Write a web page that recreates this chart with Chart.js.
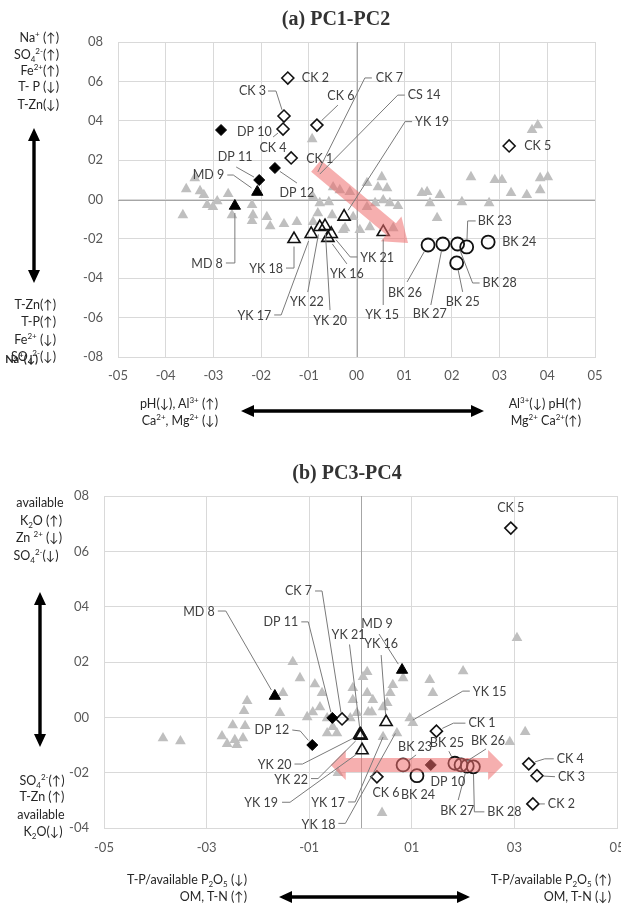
<!DOCTYPE html>
<html>
<head>
<meta charset="utf-8">
<script src="https://cdn.jsdelivr.net/npm/chart.js@4.4.1/dist/chart.umd.min.js"></script>
<style>
html,body{margin:0;padding:0;width:621px;height:909px;overflow:hidden;background:#fff;position:relative;}
canvas{position:absolute;left:0;}
#ca{top:0;}
#cb{top:430px;}
.tx{position:absolute;font-family:Lato,'DejaVu Sans',sans-serif;font-size:12.5px;color:#262626;white-space:nowrap;line-height:14px;}
.tx sup{font-size:8px;vertical-align:0;position:relative;top:-5px;}
.tx sub{font-size:8px;vertical-align:0;position:relative;top:3px;}
.ttl{position:absolute;font-family:'Liberation Serif','Times New Roman',serif;font-weight:bold;font-size:20px;color:#333;white-space:nowrap;transform:translate(-50%,-50%);}
svg{position:absolute;left:0;top:0;}
</style>
</head>
<body>
<canvas id="ca" width="621" height="400"></canvas>
<canvas id="cb" width="640" height="479"></canvas>
<div class="ttl" style="left:336px;top:18px">(a) PC1-PC2</div>
<div class="ttl" style="left:347px;top:472px">(b) PC3-PC4</div>
<svg id="arrows" width="621" height="909"></svg>
<script>
// ================= DATA: (a) PC1-PC2 =================
const A_XTICKS = [-0.5,-0.4,-0.3,-0.2,-0.1,0,0.1,0.2,0.3,0.4,0.5];
const A_XTICK_LABELS = ['-05','-04','-03','-02','-01','00','01','02','03','04','05'];
const A_YTICKS = [-0.8,-0.6,-0.4,-0.2,0,0.2,0.4,0.6,0.8];
const A_YTICK_LABELS = ['-08','-06','-04','-02','00','02','04','06','08'];

const A_GRAY_X = [-0.339,-0.357,-0.328,-0.320,-0.292,-0.269,-0.301,-0.313,-0.364,-0.261,
 -0.219,-0.217,-0.219,-0.188,-0.181,-0.152,-0.125,-0.093,-0.091,-0.081,
 -0.058,-0.049,-0.035,-0.014,0.022,0.053,0.064,0.070,-0.024,0.007,
 0.028,-0.091,-0.077,0.368,0.380,0.240,0.290,0.305,0.385,0.401,
 0.385,0.324,0.357,0.278,0.221,0.175,0.154,0.137,0.148,0.169,
 0.087,-0.028,0.077,-0.007,-0.051,0.045,0.056,0.039,0.022];
const A_GRAY_Y = [0.109,0.053,0.043,0.023,-0.008,0.028,-0.038,-0.028,-0.079,-0.079,
 -0.028,-0.079,-0.109,-0.089,-0.135,-0.124,-0.114,0.307,-0.114,-0.069,
 -0.013,0.063,0.048,0.038,0.084,0.114,0.058,-0.018,-0.145,-0.155,
 -0.140,0.013,-0.018,0.353,0.378,0.114,0.099,0.099,0.109,0.114,
 0.048,0.033,0.023,-0.018,-0.013,0.023,-0.018,0.033,0.038,-0.094,
 -0.033,-0.155,-0.145,-0.089,-0.079,0.063,-0.003,-0.018,-0.038];

const A_CK_NAMES = ['CK 1','CK 2','CK 3','CK 4','CK 5','CK 6'];
const A_CK_X = [-0.137,-0.144,-0.152,-0.154,0.320,-0.083];
const A_CK_Y = [0.211,0.617,0.424,0.358,0.272,0.378];
const A_DP_NAMES = ['DP 10','DP 11','DP 12'];
const A_DP_X = [-0.284,-0.204,-0.171];
const A_DP_Y = [0.353,0.099,0.160];
const A_MD_NAMES = ['MD 8','MD 9'];
const A_MD_X = [-0.255,-0.208];
const A_MD_Y = [-0.033,0.038];
const A_YK_NAMES = ['YK 15','YK 16','YK 17','YK 18','YK 19','YK 20','YK 21','YK 22'];
const A_YK_X = [0.056,-0.060,-0.095,-0.131,-0.026,-0.066,-0.053,-0.077];
const A_YK_Y = [-0.165,-0.195,-0.175,-0.201,-0.087,-0.135,-0.175,-0.140];
const A_BK_NAMES = ['BK 23','BK 24','BK 25','BK 26','BK 27','BK 28'];
const A_BK_X = [0.231,0.276,0.210,0.150,0.181,0.212];
const A_BK_Y = [-0.241,-0.216,-0.322,-0.231,-0.226,-0.226];
const A_HIDDEN_NAMES = ['CK 7','CS 14'];
const A_HIDDEN_X = [-0.081,-0.077];
const A_HIDDEN_Y = [0.140,0.129];
const A_TREND_FROM = [-0.085,0.170];
const A_TREND_TO = [0.108,-0.221];

// ================= DATA: (b) PC3-PC4 =================
const B_XTICKS = [-0.5,-0.3,-0.1,0.1,0.3,0.5];
const B_XTICK_LABELS = ['-05','-03','-01','01','03','05'];
const B_YTICKS = [-0.4,-0.2,0,0.2,0.4,0.6,0.8];
const B_YTICK_LABELS = ['-04','-02','00','02','04','06','08'];

const B_GRAY_X = [-0.385,-0.351,-0.270,-0.260,-0.249,-0.225,-0.245,-0.229,-0.241,-0.221,
 -0.227,-0.157,-0.151,-0.132,-0.118,-0.089,-0.075,-0.079,-0.093,-0.104,
 -0.065,-0.054,-0.065,-0.046,0.013,0.005,-0.015,0.013,-0.015,0.024,
 -0.007,0.015,-0.020,0.063,0.058,0.052,0.083,0.135,0.141,0.200,
 0.102,0.096,0.305,0.321,0.291,0.044,0.022,0.071,0.044,-0.044,
 0.042];
const B_GRAY_Y = [-0.075,-0.086,-0.068,-0.096,-0.028,-0.031,-0.082,-0.075,-0.100,0.059,
 0.023,0.016,0.088,0.200,0.142,0.120,0.088,0.037,0.019,0.001,
 -0.003,-0.035,-0.057,-0.057,0.164,0.146,0.106,0.088,0.063,0.063,
 0.016,0.019,-0.003,0.117,0.088,0.052,0.142,0.135,0.088,0.167,
 -0.020,-0.003,0.287,-0.053,-0.089,0.037,0.019,-0.057,-0.071,-0.201,
 -0.345];

const B_CK_NAMES = ['CK 1','CK 2','CK 3','CK 4','CK 5','CK 6','CK 7'];
const B_CK_X = [0.148,0.336,0.344,0.328,0.293,0.032,-0.036];
const B_CK_Y = [-0.050,-0.313,-0.211,-0.168,0.684,-0.215,-0.006];
const B_DP_NAMES = ['DP 10','DP 11','DP 12'];
const B_DP_X = [0.137,-0.055,-0.094];
const B_DP_Y = [-0.172,-0.002,-0.100];
const B_MD_NAMES = ['MD 8','MD 9'];
const B_MD_X = [-0.167,0.081];
const B_MD_Y = [0.077,0.171];
const B_YK_NAMES = ['YK 16','YK 19','YK 20','YK 21','YK 22'];
const B_YK_X = [0.050,0.003,-0.002,0.000,0.001];
const B_YK_Y = [-0.017,-0.119,-0.064,-0.062,-0.066];
const B_BK_NAMES = ['BK 23','BK 24','BK 25','BK 26','BK 27','BK 28'];
const B_BK_X = [0.083,0.110,0.184,0.196,0.208,0.220];
const B_BK_Y = [-0.172,-0.211,-0.166,-0.172,-0.176,-0.179];
const B_HIDDEN_NAMES = ['YK 15','YK 17','YK 18'];
const B_HIDDEN_X = [0.102,0.044,0.068];
const B_HIDDEN_Y = [-0.010,-0.071,-0.058];
const B_TREND_FROM = [-0.058,-0.172];
const B_TREND_TO = [0.278,-0.172];

// ================= label placement (pixel offsets from each point) =================
const A_LABELS = [
 ['CK 2',14,0,'l',[]],
 ['CK 3',-18,-25,'r',[[-16,-25],[-8,-25]]],
 ['CK 4',-10,19,'c',[[-10,8]]],
 ['DP 10',16,2,'l',[]],
 ['CK 1',15,1,'l',[]],
 ['DP 11',-24,-23,'c',[[-23,-13]]],
 ['MD 9',-33,-17,'r',[[-30,-17],[-24,-17]]],
 ['DP 12',22,25,'c',[[22,15]]],
 ['MD 8',-12,58,'r',[[-9,57],[0,57]]],
 ['YK 18',-11,30,'r',[[-8,29],[0,29]]],
 ['YK 17',-40,82,'r',[[-37,81],[-30,81]]],
 ['YK 22',-13,75,'c',[[-12,65]]],
 ['YK 20',5,95,'c',[[5,84]]],
 ['YK 21',29,24,'l',[[26,23],[19,23]]],
 ['YK 16',19,36,'c',[[19,26]]],
 ['YK 19',71,-95,'l',[[68,-95],[61,-95]]],
 ['YK 15',-1,83,'c',[[0,73]]],
 ['BK 26',-23,48,'c',[[-21,37]]],
 ['BK 27',-13,70,'c',[[-12,61]]],
 ['BK 28',25,39,'l',[[22,39],[15,39]]],
 ['BK 23',11,-26,'l',[[9,-26],[1,-26]]],
 ['BK 24',14,0,'l',[]],
 ['BK 25',6,39,'c',[[6,29]]],
 ['CK 5',15,0,'l',[]],
 ['CK 6',24,-29,'c',[[21,-20]]],
 ['CK 7',58,-94,'l',[[54,-94],[47,-94]]],
 ['CS 14',88,-79,'l',[[85,-79],[78,-79]]]
];
const B_LABELS = [
 ['CK 5',0,-20,'c',[]],
 ['MD 8',-60,-84,'r',[[-57,-85],[-49,-85]]],
 ['DP 11',-34,-96,'r',[[-31,-96],[-24,-96]]],
 ['CK 7',-30,-128,'r',[[-27,-128],[-20,-128]]],
 ['YK 21',-12,-100,'c',[[-11,-90]]],
 ['MD 9',-25,-46,'c',[[-23,-36]]],
 ['YK 16',-5,-78,'c',[[-5,-67]]],
 ['YK 15',60,-28,'l',[[57,-29],[50,-29]]],
 ['CK 1',32,-8,'l',[[29,-8],[17,-8]]],
 ['DP 12',-23,-15,'r',[[-20,-15],[-12,-14]]],
 ['YK 20',-68,30,'r',[[-65,29],[-57,29]]],
 ['YK 22',-53,44,'r',[[-50,43],[-43,43]]],
 ['YK 19',-84,53,'r',[[-80,52],[-72,52]]],
 ['YK 17',-38,66,'r',[[-35,65],[-28,65]]],
 ['YK 18',-60,92,'r',[[-57,90],[-50,90]]],
 ['CK 6',9,16,'c',[]],
 ['BK 23',12,-18,'c',[[13,-10]]],
 ['BK 24',1,19,'c',[]],
 ['DP 10',17,17,'c',[]],
 ['BK 25',-8,-20,'c',[[-6,-12]]],
 ['BK 26',27,-24,'c',[[25,-16]]],
 ['BK 27',-10,45,'c',[[-9,34]]],
 ['BK 28',14,45,'l',[[11,45],[1,45]]],
 ['CK 4',28,-5,'l',[[25,-5],[16,-5]]],
 ['CK 3',21,1,'l',[[18,1]]],
 ['CK 2',15,0,'l',[[12,0]]]
];

// ================= helpers =================
const STY = {
  gray:  {pointStyle:'triangle', pointRadius:6.2, pointBackgroundColor:'#bfbfbf', pointBorderColor:'#bfbfbf', pointBorderWidth:0},
  openTri:{pointStyle:'triangle', pointRadius:7, pointBackgroundColor:'rgba(0,0,0,0)', pointBorderColor:'#111', pointBorderWidth:1.6},
  blkTri:{pointStyle:'triangle', pointRadius:6.5, pointBackgroundColor:'#000', pointBorderColor:'#000', pointBorderWidth:1},
  openDia:{pointStyle:'rectRot', pointRadius:6, pointBackgroundColor:'rgba(0,0,0,0)', pointBorderColor:'#111', pointBorderWidth:1.6},
  blkDia:{pointStyle:'rectRot', pointRadius:5.5, pointBackgroundColor:'#000', pointBorderColor:'#000', pointBorderWidth:1},
  circ:  {pointStyle:'circle', pointRadius:6.5, pointBackgroundColor:'rgba(0,0,0,0)', pointBorderColor:'#111', pointBorderWidth:1.8},
  hidden:{pointStyle:'circle', pointRadius:0, pointBackgroundColor:'rgba(0,0,0,0)', pointBorderColor:'rgba(0,0,0,0)', pointBorderWidth:0}
};
function ds(xs, ys, sty, order, names){
  return Object.assign({data: xs.map((x,i)=>({x:x, y:ys[i]})), showLine:false, order:order, _names:names||[], _r: sty.pointRadius}, sty, {pointHoverRadius: sty.pointRadius});
}
function drawArrow(ctx,x1,y1,x2,y2,sw,hw,hl,dbl){
  const dx=x2-x1, dy=y2-y1, L=Math.hypot(dx,dy), ux=dx/L, uy=dy/L, nx=-uy, ny=ux;
  const P=(x,y,a,b)=>[x+nx*a+ux*b, y+ny*a+uy*b];
  const pts=[];
  if(dbl){ pts.push([x1,y1]); pts.push(P(x1,y1,hw/2,hl)); pts.push(P(x1,y1,sw/2,hl)); }
  else pts.push(P(x1,y1,sw/2,0));
  pts.push(P(x2,y2,sw/2,-hl)); pts.push(P(x2,y2,hw/2,-hl)); pts.push([x2,y2]);
  pts.push(P(x2,y2,-hw/2,-hl)); pts.push(P(x2,y2,-sw/2,-hl));
  if(dbl){ pts.push(P(x1,y1,-sw/2,hl)); pts.push(P(x1,y1,-hw/2,hl)); }
  else pts.push(P(x1,y1,-sw/2,0));
  ctx.beginPath(); ctx.moveTo(pts[0][0],pts[0][1]);
  for(let i=1;i<pts.length;i++) ctx.lineTo(pts[i][0],pts[i][1]);
  ctx.closePath(); ctx.fill();
}
function annoPlugin(cfg){
  return {
    id:'anno',
    beforeDatasetsDraw(chart){
      const {ctx, chartArea:ca, scales:{x,y}} = chart;
      ctx.save(); ctx.strokeStyle='#a6a6a6'; ctx.lineWidth=1;
      if(cfg.zeroX){ const px=Math.round(x.getPixelForValue(0))+0.5; ctx.beginPath(); ctx.moveTo(px,ca.top); ctx.lineTo(px,ca.bottom); ctx.stroke(); }
      if(cfg.zeroY){ const py=Math.round(y.getPixelForValue(0))+0.5; ctx.beginPath(); ctx.moveTo(ca.left,py); ctx.lineTo(ca.right,py); ctx.stroke(); }
      ctx.restore();
    },
    afterDatasetsDraw(chart){
      const {ctx, scales:{x,y}} = chart;
      const map={};
      chart.data.datasets.forEach(d=>{ d._names.forEach((n,i)=>{ map[n]={px:x.getPixelForValue(d.data[i].x), py:y.getPixelForValue(d.data[i].y), r:d._r}; }); });
      ctx.save();
      ctx.fillStyle='rgba(238,110,110,0.55)';
      const t=cfg.trend;
      drawArrow(ctx, x.getPixelForValue(t.from[0]), y.getPixelForValue(t.from[1]), x.getPixelForValue(t.to[0]), y.getPixelForValue(t.to[1]), t.sw, t.hw, t.hl, t.dbl);
      ctx.strokeStyle='#7a7a7a'; ctx.lineWidth=1;
      cfg.labels.forEach(L=>{
        const p=map[L[0]]; if(!p) return;
        const path=L[4]; if(!path.length) return;
        ctx.beginPath();
        ctx.moveTo(p.px+path[0][0], p.py+path[0][1]);
        for(let i=1;i<path.length;i++) ctx.lineTo(p.px+path[i][0], p.py+path[i][1]);
        const lx=p.px+path[path.length-1][0], ly=p.py+path[path.length-1][1];
        const vx=p.px-lx, vy=p.py-ly, vl=Math.hypot(vx,vy)||1;
        const sh=Math.min(p.r>0?p.r+0.5:0, vl);
        ctx.lineTo(p.px-vx/vl*sh, p.py-vy/vl*sh);
        ctx.stroke();
      });
      ctx.fillStyle='#404040'; ctx.font='12.5px Lato'; ctx.textBaseline='middle';
      cfg.labels.forEach(L=>{
        const p=map[L[0]]; if(!p) return;
        ctx.textAlign = L[3]==='l'?'left':(L[3]==='r'?'right':'center');
        ctx.fillText(L[0], p.px+L[1], p.py+L[2]);
      });
      ctx.restore();
    }
  };
}
function axes(xt,xl,yt,yl,yw,xh,xpad,ypad){
  const tickFont={family:'Lato', size:13};
  return {
    x:{type:'linear', min:xt[0], max:xt[xt.length-1],
       afterBuildTicks:s=>{ s.ticks = xt.map(v=>({value:v})); },
       afterFit:s=>{ s.height = xh; },
       ticks:{callback:(v,i)=>xl[i], padding:xpad, font:tickFont, color:'#595959', maxRotation:0, autoSkip:false},
       grid:{color:'#d9d9d9', drawTicks:false}, border:{display:true, color:'#d9d9d9'}},
    y:{type:'linear', min:yt[0], max:yt[yt.length-1],
       afterBuildTicks:s=>{ s.ticks = yt.map(v=>({value:v})); },
       afterFit:s=>{ s.width = yw; },
       ticks:{callback:(v,i)=>yl[i], padding:ypad, font:tickFont, color:'#595959', autoSkip:false},
       grid:{color:'#d9d9d9', drawTicks:false}, border:{display:true, color:'#d9d9d9'}}
  };
}
const baseOpts = {responsive:false, animation:false, events:[], plugins:{legend:{display:false}, tooltip:{enabled:false}, title:{display:false}}};

new Chart(document.getElementById('ca'), {
  type:'scatter',
  data:{datasets:[
    ds(A_GRAY_X, A_GRAY_Y, STY.gray, 10),
    ds(A_HIDDEN_X, A_HIDDEN_Y, STY.hidden, 9, A_HIDDEN_NAMES),
    ds(A_YK_X, A_YK_Y, STY.openTri, 3, A_YK_NAMES),
    ds(A_BK_X, A_BK_Y, STY.circ, 3, A_BK_NAMES),
    ds(A_CK_X, A_CK_Y, STY.openDia, 2, A_CK_NAMES),
    ds(A_MD_X, A_MD_Y, STY.blkTri, 1, A_MD_NAMES),
    ds(A_DP_X, A_DP_Y, STY.blkDia, 1, A_DP_NAMES)
  ]},
  options:Object.assign({}, baseOpts, {
    layout:{padding:{left:0, top:42, right:26, bottom:13}},
    scales: axes(A_XTICKS, A_XTICK_LABELS, A_YTICKS, A_YTICK_LABELS, 118, 30, 11, 15)
  }),
  plugins:[annoPlugin({zeroX:true, zeroY:true, labels:A_LABELS,
    trend:{from:A_TREND_FROM, to:A_TREND_TO, sw:15, hw:32, hl:22, dbl:false}})]
});

new Chart(document.getElementById('cb'), {
  type:'scatter',
  data:{datasets:[
    ds(B_GRAY_X, B_GRAY_Y, STY.gray, 10),
    ds(B_HIDDEN_X, B_HIDDEN_Y, STY.hidden, 9, B_HIDDEN_NAMES),
    ds(B_YK_X, B_YK_Y, STY.openTri, 3, B_YK_NAMES),
    ds(B_BK_X, B_BK_Y, STY.circ, 3, B_BK_NAMES),
    ds(B_CK_X, B_CK_Y, STY.openDia, 2, B_CK_NAMES),
    ds(B_MD_X, B_MD_Y, STY.blkTri, 1, B_MD_NAMES),
    ds(B_DP_X, B_DP_Y, STY.blkDia, 1, B_DP_NAMES)
  ]},
  options:Object.assign({}, baseOpts, {
    layout:{padding:{left:0, top:66, right:23, bottom:51}},
    scales: axes(B_XTICKS, B_XTICK_LABELS, B_YTICKS, B_YTICK_LABELS, 104, 30, 12, 15)
  }),
  plugins:[annoPlugin({zeroX:true, zeroY:false, labels:B_LABELS,
    trend:{from:B_TREND_FROM, to:B_TREND_TO, sw:14, hw:30, hl:15, dbl:true}})]
});

const SIDE = [
 ['Na<sup>+</sup> (↑)',59,38,'r'],
 ['SO<sub>4</sub><sup>2-</sup>(↑)',59,55,'r'],
 ['Fe<sup>2+</sup>(↑)',59,71,'r'],
 ['T- P (↓)',59,87,'r'],
 ['T-Zn(↓)',59,105,'r'],
 ['T-Zn(↑)',56,305,'r'],
 ['T-P(↑)',56,322,'r'],
 ['Fe<sup>2+</sup> (↓)',56,340,'r'],
 ['SO<sub>4</sub><sup>2-</sup>(↓)',56,357,'r'],
 ['<b style="font-size:11px">Na<sup>+</sup>(↓)</b>',38,359,'r'],
 ['pH(↓), Al<sup>3+</sup> (↑)',218,404,'r'],
 ['Ca<sup>2+</sup>, Mg<sup>2+</sup> (↓)',218,421,'r'],
 ['Al<sup>3+</sup>(↓) pH(↑)',581,404,'r'],
 ['Mg<sup>2+</sup> Ca<sup>2+</sup>(↑)',581,421,'r'],
 ['available',40,503,'c'],
 ['K<sub>2</sub>O (↑)',41,521,'c'],
 ['Zn <sup>2+</sup> (↓)',39,538,'c'],
 ['SO<sub>4</sub><sup>2-</sup>(↓)',36,556,'c'],
 ['SO<sub>4</sub><sup>2-</sup>(↑)',42,781,'c'],
 ['T-Zn (↑)',42,797,'c'],
 ['available',41,815,'c'],
 ['K<sub>2</sub>O(↓)',43,832,'c'],
 ['T-P/available P<sub>2</sub>O<sub>5</sub> (↓)',247,880,'r'],
 ['OM, T-N (↑)',247,897,'r'],
 ['T-P/available P<sub>2</sub>O<sub>5</sub> (↑)',611,880,'r'],
 ['OM, T-N (↓)',611,897,'r']
];
SIDE.forEach(s=>{
  const d=document.createElement('div'); d.className='tx'; d.innerHTML=s[0];
  d.style.top=s[2]+'px';
  if(s[3]==='r'){ d.style.right=(621-s[1])+'px'; d.style.transform='translateY(-50%)'; }
  else { d.style.left=s[1]+'px'; d.style.transform='translate(-50%,-50%)'; }
  document.body.appendChild(d);
});
const DARROWS = [[34,128,34,283],[241,411,484,411],[40,592,40,747],[279,897,470,897]];
(function(){
  const svg=document.getElementById('arrows'); let h='';
  DARROWS.forEach(a=>{
    const [x1,y1,x2,y2]=a, dx=x2-x1, dy=y2-y1, L=Math.hypot(dx,dy), ux=dx/L, uy=dy/L, nx=-uy, ny=ux;
    const sw=3.4, hw=12, hl=13;
    const P=(x,y,p,b)=>(x+nx*p+ux*b).toFixed(1)+','+(y+ny*p+uy*b).toFixed(1);
    const pts=[x1+','+y1, P(x1,y1,hw/2,hl), P(x1,y1,sw/2,hl), P(x2,y2,sw/2,-hl), P(x2,y2,hw/2,-hl), x2+','+y2,
               P(x2,y2,-hw/2,-hl), P(x2,y2,-sw/2,-hl), P(x1,y1,-sw/2,hl), P(x1,y1,-hw/2,hl)];
    h+='<polygon points="'+pts.join(' ')+'" fill="#000"/>';
  });
  svg.innerHTML=h;
})();
</script>
</body>
</html>
